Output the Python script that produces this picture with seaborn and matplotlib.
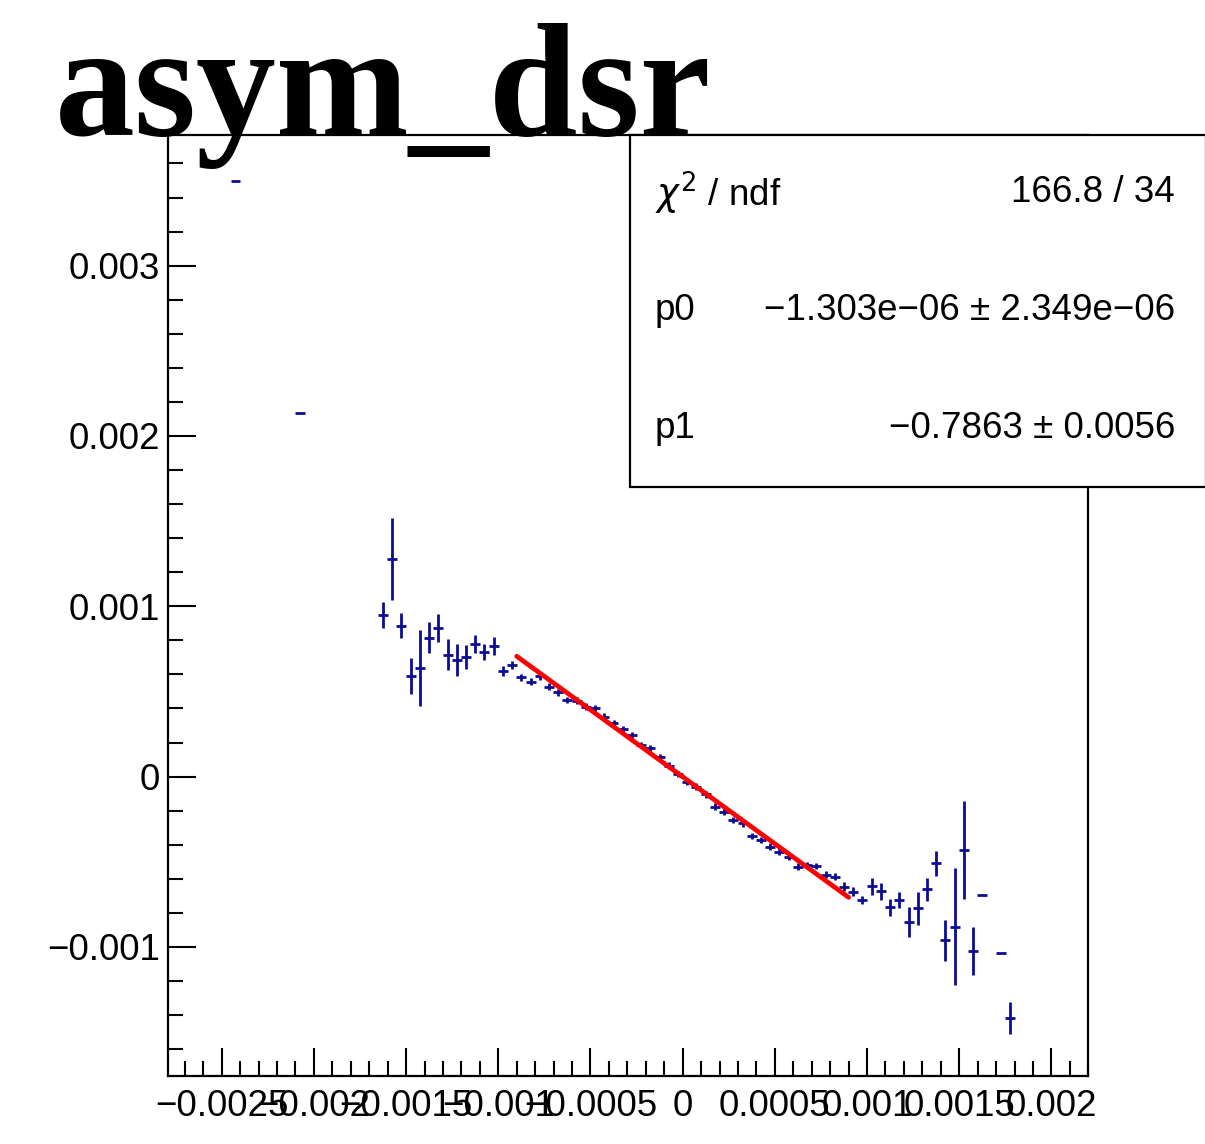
import numpy as np
import pandas as pd
import matplotlib
matplotlib.use("Agg")
import matplotlib.pyplot as plt
from matplotlib.patches import Rectangle
import seaborn as sns

# ---------------- data ----------------
bin_centers = [
    -0.002425, -0.002075,
    -0.001625, -0.001575, -0.001525, -0.001475, -0.001425, -0.001375, -0.001325,
    -0.001275, -0.001225, -0.001175, -0.001125, -0.001075, -0.001025, -0.000975,
    -0.000925, -0.000875, -0.000825, -0.000775, -0.000725, -0.000675, -0.000625,
    -0.000575, -0.000525, -0.000475, -0.000425, -0.000375, -0.000325, -0.000275,
    -0.000225, -0.000175, -0.000125, -0.000075, -0.000025, 0.000025, 0.000075,
    0.000125, 0.000175, 0.000225, 0.000275, 0.000325, 0.000375, 0.000425,
    0.000475, 0.000525, 0.000575, 0.000625, 0.000675, 0.000725, 0.000775,
    0.000825, 0.000875, 0.000925, 0.000975, 0.001025, 0.001075, 0.001125,
    0.001175, 0.001225, 0.001275, 0.001325, 0.001375, 0.001425, 0.001475,
    0.001525, 0.001575, 0.001625, 0.001725, 0.001775,
]
asym_values = [
    0.003499, 0.002137,
    0.000949, 0.001278, 0.000886, 0.000591, 0.000638, 0.000814, 0.000874,
    0.000714, 0.000685, 0.000704, 0.000779, 0.000733, 0.000767, 0.000620,
    0.000655, 0.000584, 0.000557, 0.000590, 0.000528, 0.000494, 0.000450,
    0.000445, 0.000410, 0.000401, 0.000352, 0.000315, 0.000278, 0.000244,
    0.000185, 0.000166, 0.000115, 0.000063, 0.000015, -0.000030, -0.000059,
    -0.000105, -0.000177, -0.000206, -0.000255, -0.000274, -0.000349, -0.000372,
    -0.000411, -0.000440, -0.000470, -0.000529, -0.000519, -0.000525, -0.000577,
    -0.000587, -0.000646, -0.000675, -0.000725, -0.000644, -0.000674, -0.000768,
    -0.000725, -0.000852, -0.000773, -0.000662, -0.000509, -0.000960, -0.000881,
    -0.000431, -0.001024, -0.000695, -0.001038, -0.001416,
]
asym_errors = [
    0.0, 0.0,
    0.000075, 0.000240, 0.000073, 0.000106, 0.000223, 0.000091, 0.000082,
    0.000091, 0.000094, 0.000070, 0.000053, 0.000047, 0.000053, 0.000030,
    0.000024, 0.000020, 0.000020, 0.000020, 0.000020, 0.000020, 0.000020,
    0.000020, 0.000020, 0.000020, 0.000020, 0.000020, 0.000020, 0.000020,
    0.000020, 0.000020, 0.000020, 0.000020, 0.000020, 0.000020, 0.000020,
    0.000020, 0.000020, 0.000020, 0.000020, 0.000020, 0.000020, 0.000020,
    0.000020, 0.000020, 0.000020, 0.000020, 0.000020, 0.000020, 0.000020,
    0.000020, 0.000025, 0.000025, 0.000025, 0.000049, 0.000049, 0.000049,
    0.000049, 0.000088, 0.000098, 0.000069, 0.000073, 0.000120, 0.000342,
    0.000287, 0.000139, 0.0, 0.0, 0.000093,
]
half_bin_width = 0.000027

fit_p0 = -1.303e-06
fit_p1 = -0.7863
fit_range = [-0.0009, 0.0009]

x_ticks = [-0.0025, -0.002, -0.0015, -0.001, -0.0005, 0.0, 0.0005, 0.001, 0.0015, 0.002]
x_tick_labels = ["\u22120.0025", "\u22120.002", "\u22120.0015", "\u22120.001", "\u22120.0005",
                 "0", "0.0005", "0.001", "0.0015", "0.002"]
y_ticks = [-0.001, 0.0, 0.001, 0.002, 0.003]
y_tick_labels = ["\u22120.001", "0", "0.001", "0.002", "0.003"]

title_text = "asym_dsr"
stats_rows = [
    (r"$\chi^{2}$ / ndf", "166.8 / 34"),
    ("p0", "\u22121.303e\u221206 \u00b1 2.349e\u221206"),
    ("p1", "\u22120.7863 \u00b1 0.0056"),
]

# ---------------- drawing ----------------
sns.set_theme(style="white")
plt.rcParams['font.family'] = ['Liberation Sans', 'DejaVu Sans']
plt.rcParams['xtick.bottom'] = True
plt.rcParams['ytick.left'] = True
plt.rcParams['mathtext.fontset'] = 'dejavusans'

W, H = 1205, 1144
fig = plt.figure(figsize=(W / 100, H / 100), dpi=100)
fig.patch.set_facecolor("white")

ax_l, ax_r, ax_t, ax_b = 168.3, 1088.3, 135.0, 1076.0
ax = fig.add_axes([ax_l / W, 1 - ax_b / H, (ax_r - ax_l) / W, (ax_b - ax_t) / H])
ax.set_facecolor("white")

df = pd.DataFrame({"x": bin_centers, "y": asym_values, "err": asym_errors})
ax.errorbar(df["x"], df["y"], yerr=df["err"], xerr=half_bin_width, fmt="none",
            ecolor="#0c0c96", elinewidth=2.0, capsize=0, zorder=3)

fit_x = np.linspace(fit_range[0], fit_range[1], 60)
fit_df = pd.DataFrame({"x": fit_x, "y": fit_p0 + fit_p1 * fit_x})
sns.lineplot(data=fit_df, x="x", y="y", color="red", linewidth=3.4, ax=ax, zorder=4)

ax.set_xlim(-0.0027895, 0.0021985)
ax.set_ylim(-0.001758, 0.003767)
ax.set_xlabel("")
ax.set_ylabel("")

ax.set_xticks(x_ticks)
ax.set_xticklabels(x_tick_labels)
ax.set_yticks(y_ticks)
ax.set_yticklabels(y_tick_labels)
ax.set_xticks(np.arange(-0.0027, 0.00221, 0.0001), minor=True)
ax.set_yticks(np.arange(-0.0016, 0.00377, 0.0002), minor=True)

ax.tick_params(axis="both", which="major", direction="in", length=20, width=1.5,
               colors="black", labelsize=26.5, top=False, right=False,
               bottom=True, left=True)
ax.tick_params(axis="both", which="minor", direction="in", length=11, width=1.5,
               colors="black", top=False, right=False, bottom=True, left=True)
ax.tick_params(axis="x", which="major", pad=9)
ax.tick_params(axis="y", which="major", pad=6)
for lab in ax.get_xticklabels() + ax.get_yticklabels():
    lab.set_color("black")

for sp in ax.spines.values():
    sp.set_visible(True)
    sp.set_color("black")
    sp.set_linewidth(1.6)

# stats box
bx0, bx1, by0, by1 = 630, 1206, 135, 487
fig.add_artist(Rectangle((bx0 / W, 1 - by1 / H), (bx1 - bx0) / W, (by1 - by0) / H,
                         transform=fig.transFigure, facecolor="white",
                         edgecolor="black", linewidth=1.6, zorder=5))
row_y = [193, 311, 428]
for (lbl, val), yy in zip(stats_rows, row_y):
    fig.text(655 / W, 1 - yy / H, lbl, ha="left", va="center", fontsize=26.5,
             color="black", zorder=6)
    fig.text(1175 / W, 1 - yy / H, val, ha="right", va="center", fontsize=26.5,
             color="black", zorder=6)

# title
fig.text(55 / W, 1 - 135 / H, title_text, ha="left", va="baseline",
         fontsize=115, fontweight="bold", family=["Liberation Serif", "DejaVu Serif"],
         color="black", zorder=10)

fig.savefig("out.png", dpi=100, facecolor="white")
